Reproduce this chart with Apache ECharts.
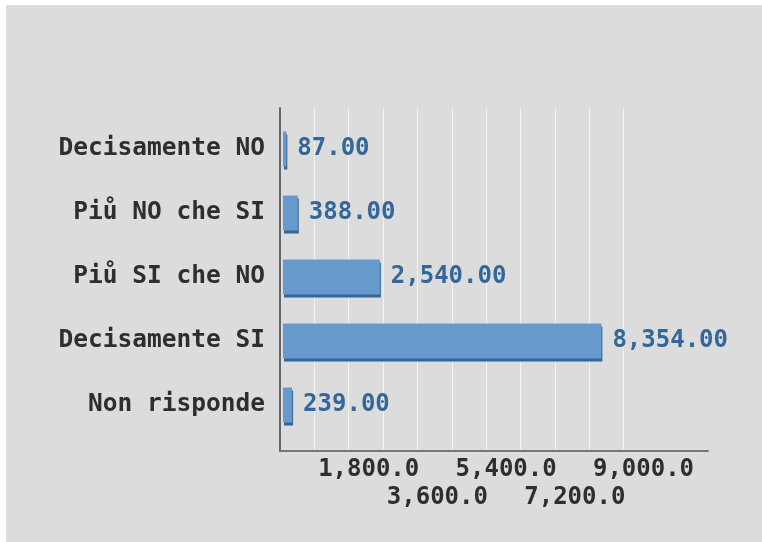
<!DOCTYPE html>
<html>
<head>
<meta charset="utf-8">
<script src="https://cdn.jsdelivr.net/npm/echarts@6/dist/echarts.min.js"></script>
<style>
  html, body { margin: 0; padding: 0; background: #ffffff; }
  #chart { position: absolute; left: 6px; top: 5px; width: 756px; height: 537px; }
</style>
</head>
<body>
<div id="chart"></div>
<script>
// Survey answers and their counts (top to bottom)
const categories = ['Decisamente NO', 'Piů NO che SI', 'Piů SI che NO', 'Decisamente SI', 'Non risponde'];
const counts = [87, 388, 2540, 8354, 239];

// Value axis: gridline every 900, labelled every 1800, labels alternate between two rows
const axisMax = 9000;
const gridStep = 900;
const labelStep = 1800;

const FONT = 'DejaVu Sans Mono';
const fmt = (v, d) => v.toLocaleString('en-US', { minimumFractionDigits: d, maximumFractionDigits: d });

const chart = echarts.init(document.getElementById('chart'), null, { renderer: 'canvas' });

chart.setOption({
  backgroundColor: '#dcdcdc',
  animation: false,
  grid: [
    // gridlines + tick labels
    { left: 274, right: 138.5, top: 103, bottom: 91 },
    // bars
    { left: 277, right: 136, top: 112, height: 320 },
    // axis lines
    { left: 274, right: 54, top: 103, bottom: 91 }
  ],
  xAxis: [
    {
      gridIndex: 0, type: 'value', min: 0, max: axisMax, interval: gridStep,
      axisLine: { show: false }, axisTick: { show: false },
      splitLine: { show: true, lineStyle: { color: '#f2f2f2', width: 1 } },
      axisLabel: {
        show: true, margin: 5, lineHeight: 28,
        fontFamily: FONT, fontWeight: 'bold', fontSize: 24, color: '#2e2e2e',
        padding: [0, 0, 0, 40],
        showMinLabel: false,
        formatter: function (v) {
          if (v === 0 || v % labelStep !== 0) return '';
          const row = (v / labelStep) % 2 === 1 ? 0 : 1;
          return (row ? '\n' : '') + fmt(v, 1);
        }
      }
    },
    {
      gridIndex: 1, type: 'value', min: 0, max: axisMax,
      show: false, splitLine: { show: false }
    },
    {
      gridIndex: 2, type: 'value', min: 0, max: 1,
      axisLine: { show: true, lineStyle: { color: '#777777', width: 2 } },
      axisTick: { show: false }, axisLabel: { show: false }, splitLine: { show: false }
    }
  ],
  yAxis: [
    {
      gridIndex: 0, type: 'category', data: categories, show: false
    },
    {
      gridIndex: 1, type: 'category', data: categories, inverse: true,
      axisLine: { show: false }, axisTick: { show: false },
      axisLabel: {
        margin: 18, fontFamily: FONT, fontWeight: 'bold', fontSize: 24.5, color: '#2e2e2e'
      }
    },
    {
      gridIndex: 2, type: 'value', min: 0, max: 1,
      axisLine: { show: true, lineStyle: { color: '#666666', width: 2 } },
      axisTick: { show: false }, axisLabel: { show: false }, splitLine: { show: false }
    }
  ],
  series: [
    {
      type: 'bar',
      xAxisIndex: 1, yAxisIndex: 1,
      data: counts,
      barWidth: 35,
      itemStyle: {
        color: '#6699cc',
        shadowColor: '#336699', shadowBlur: 0, shadowOffsetX: 1, shadowOffsetY: 3
      },
      label: {
        show: true, position: 'right', distance: 11,
        fontFamily: FONT, fontWeight: 'bold', fontSize: 24, color: '#336699',
        formatter: p => fmt(p.value, 2)
      }
    }
  ]
});
</script>
</body>
</html>
